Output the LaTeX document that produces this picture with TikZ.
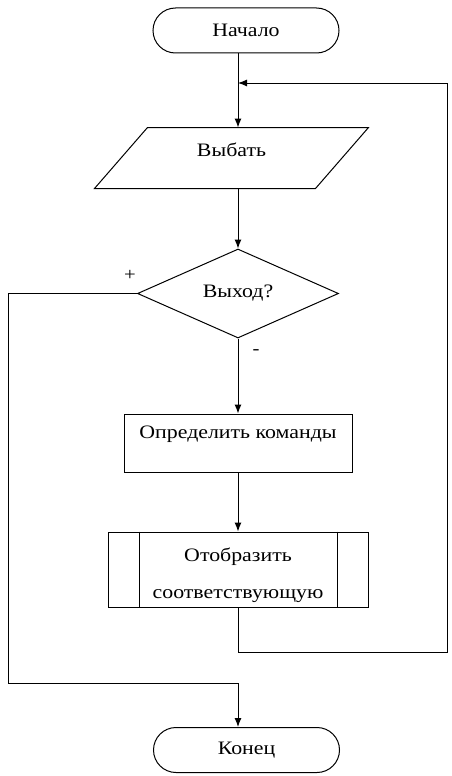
\documentclass[tikz,border=0pt]{standalone}
\usepackage{fontspec}
\setmainfont{Liberation Serif}[FakeStretch=1.15]
\usepackage{tikz}
\usetikzlibrary{shapes.geometric}
\usetikzlibrary{shapes.misc}
\usetikzlibrary{arrows.meta}

\begin{document}
\begin{tikzpicture}[x=1pt,y=-1pt]
      \tikzstyle{edge}  = [line width=1pt,draw=black]
      \tikzstyle{dedge} = [->,>={Latex[length=9pt,width=7pt]},line width=1pt,draw=black]
      \tikzstyle{box}=[
        draw=black,
        line width=1pt,
        inner sep=1pt,
        anchor=center,
        font=\fontsize{19}{37}\selectfont,
      ]
      \tikzstyle{term}=[box, rounded rectangle, minimum width=188pt, minimum height=45pt]
      \tikzstyle{io}=[box, draw=none, rectangle, minimum width=220pt, minimum height=60pt,
        text height=14pt, text depth=17pt]
      \tikzstyle{decision}=[box, diamond, aspect=2.2, inner sep=0pt, minimum width=201pt, minimum height=89pt]
      \tikzstyle{proc}=[box, rectangle, minimum width=228pt, minimum height=58pt]
      \tikzstyle{lbl}=[inner sep=0pt, font=\fontsize{18}{20}\selectfont]

      \useasboundingbox (0,0) rectangle (452,776);

      \node[term] (n1) at (246,30.5) {Начало};
      \node[io] (n2) at (231.5,158) {Выбать};
      \node[decision] (n3) at (238,293.5) {Выход?};
      \node[proc, text height=14pt, text depth=23pt] (n4) at (238,443) {Определить команды};
      \node[proc, minimum width=260pt, minimum height=75pt, align=center] (n5) at (238,569.5)
        {\rule{0pt}{25pt}Отобразить\\соответствующую};
      \node[term] (n6) at (246.5,750) {Конец};

      % slanted sides of the input box
      \draw[edge] ([xshift=26.5pt]n2.north west) -- ([xshift=26.5pt]n2.north east)
        -- ([xshift=-26.5pt]n2.south east) -- ([xshift=-26.5pt]n2.south west) -- cycle;
      % side bars of the subprocess box
      \draw[edge] ([xshift=32pt]n5.north west) -- ([xshift=32pt]n5.south west);
      \draw[edge] ([xshift=-31pt]n5.north east) -- ([xshift=-31pt]n5.south east);

      \node[lbl] (yes) at (130,275) {+};
      \node[lbl] (no) at (256,352) {-};

      \coordinate (j1) at (238,83);
      \coordinate (r1) at (447,652);
      \coordinate (l1) at (8,683);

      \draw[dedge] (n1.south -| n3.north) -- (n2.north -| n3.north);
      \draw[dedge] (n2.south -| n3.north) -- (n3.north);
      \draw[dedge] (n3.south) -- (n4.north);
      \draw[dedge] (n4.south) -- (n5.north);
      \draw[dedge] (n5.south) |- (r1) |- (j1);
      \draw[dedge] (n3.west) -| (l1) -| (n6.north -| n3.south);
    \end{tikzpicture}
\end{document}
